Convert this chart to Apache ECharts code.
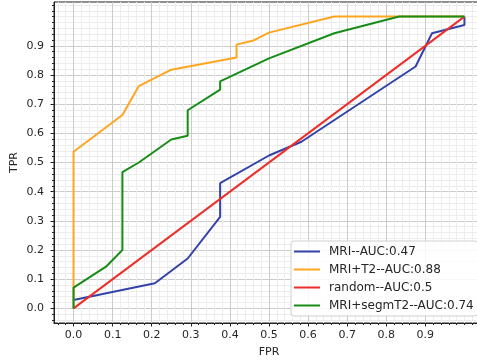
<!DOCTYPE html>
<html>
<head>
<meta charset="utf-8">
<script src="https://cdn.jsdelivr.net/npm/echarts@6/dist/echarts.min.js"></script>
<style>
  html, body { margin: 0; padding: 0; background: #fff; }
  #chart { width: 477px; height: 361px; }
</style>
</head>
<body>
<div id="chart"></div>
<script>
// ROC curves, values
const seriesNames = ['MRI--AUC:0.47', 'MRI+T2--AUC:0.88', 'random--AUC:0.5', 'MRI+segmT2--AUC:0.74'];
const seriesColors = ['#3343a8', '#ffa51f', '#ec2f2a', '#178c17'];

const mriFpr = [0, 0.208, 0.292, 0.375, 0.375, 0.5, 0.583, 0.875, 0.917, 1, 1];
const mriTpr = [0.029, 0.086, 0.171, 0.314, 0.429, 0.524, 0.571, 0.829, 0.943, 0.971, 1];

const mriT2Fpr = [0, 0, 0.125, 0.167, 0.25, 0.417, 0.417, 0.458, 0.5, 0.667, 1];
const mriT2Tpr = [0, 0.537, 0.663, 0.762, 0.818, 0.86, 0.904, 0.917, 0.945, 1, 1];

const randomFpr = [0, 1];
const randomTpr = [0, 1];

const segmFpr = [0, 0, 0.083, 0.125, 0.125, 0.167, 0.25, 0.292, 0.292, 0.375, 0.375, 0.5, 0.667, 0.833, 1];
const segmTpr = [0, 0.071, 0.143, 0.2, 0.467, 0.5, 0.579, 0.592, 0.679, 0.75, 0.778, 0.857, 0.943, 1, 1];

const majorTicks = [0, 0.1, 0.2, 0.3, 0.4, 0.5, 0.6, 0.7, 0.8, 0.9];
const minorTicks = [-0.04, -0.02, 0.02, 0.04, 0.06, 0.08, 0.12, 0.14, 0.16, 0.18,
  0.22, 0.24, 0.26, 0.28, 0.32, 0.34, 0.36, 0.38, 0.42, 0.44, 0.46, 0.48,
  0.52, 0.54, 0.56, 0.58, 0.62, 0.64, 0.66, 0.68, 0.72, 0.74, 0.76, 0.78,
  0.82, 0.84, 0.86, 0.88, 0.92, 0.94, 0.96, 0.98, 1.0, 1.02, 1.04];

const font = 'DejaVu Sans';

function zip(xs, ys) {
  return xs.map((x, i) => [x, ys[i]]);
}

function majorAxis(name, isX) {
  return {
    type: 'value',
    min: -0.05,
    max: 1.05,
    name: name,
    nameLocation: 'middle',
    nameGap: isX ? 24 : 34,
    nameMoveOverlap: false,
    nameTextStyle: { fontFamily: font, fontSize: 11, color: '#262626' },
    axisLine: { show: true, onZero: false, lineStyle: { color: '#222', width: 1 } },
    axisTick: { show: true, customValues: majorTicks, length: 3.5, lineStyle: { color: '#222' } },
    axisLabel: {
      customValues: majorTicks,
      margin: isX ? 7 : 10,
      fontFamily: font,
      fontSize: 11,
      color: '#262626',
      formatter: v => v.toFixed(1)
    },
    splitLine: { show: true, lineStyle: { color: '#cbcbcb', width: 1 } }
  };
}

function minorAxis() {
  return {
    type: 'value',
    min: -0.05,
    max: 1.05,
    axisLine: { show: false, onZero: false },
    axisTick: { show: true, customValues: minorTicks, length: 2, lineStyle: { color: '#222' } },
    axisLabel: { show: false },
    splitLine: { show: true, lineStyle: { color: '#ededed', width: 1 } }
  };
}

const chart = echarts.init(document.getElementById('chart'));

const allData = [zip(mriFpr, mriTpr), zip(mriT2Fpr, mriT2Tpr), zip(randomFpr, randomTpr), zip(segmFpr, segmTpr)];

chart.setOption({
  animation: false,
  grid: {
    left: 54,
    top: 2,
    width: 430,
    height: 321,
    outerBoundsMode: 'none',
    show: true,
    borderColor: '#222',
    borderWidth: 1,
    backgroundColor: '#fff'
  },
  xAxis: [
    Object.assign(minorAxis(), { position: 'bottom' }),
    Object.assign(majorAxis('FPR', true), { position: 'bottom' })
  ],
  yAxis: [
    Object.assign(minorAxis(), { position: 'left' }),
    Object.assign(majorAxis('TPR', false), { position: 'left' })
  ],
  legend: {
    orient: 'vertical',
    left: 291,
    top: 241,
    padding: [4.5, 4, 4.5, 3],
    icon: 'rect',
    itemWidth: 26,
    itemHeight: 2,
    itemGap: 6,
    backgroundColor: 'rgba(255,255,255,0.85)',
    borderColor: '#d0d0d0',
    borderWidth: 1,
    borderRadius: 3,
    data: seriesNames,
    textStyle: { fontFamily: font, fontSize: 12, lineHeight: 12, color: '#262626', padding: [0, 0, 0, 4] }
  },
  series: seriesNames.map((name, i) => ({
    name: name,
    type: 'line',
    xAxisIndex: 1,
    yAxisIndex: 1,
    symbol: 'none',
    color: seriesColors[i],
    lineStyle: { color: seriesColors[i], width: 2 },
    data: allData[i]
  }))
});
</script>
</body>
</html>
